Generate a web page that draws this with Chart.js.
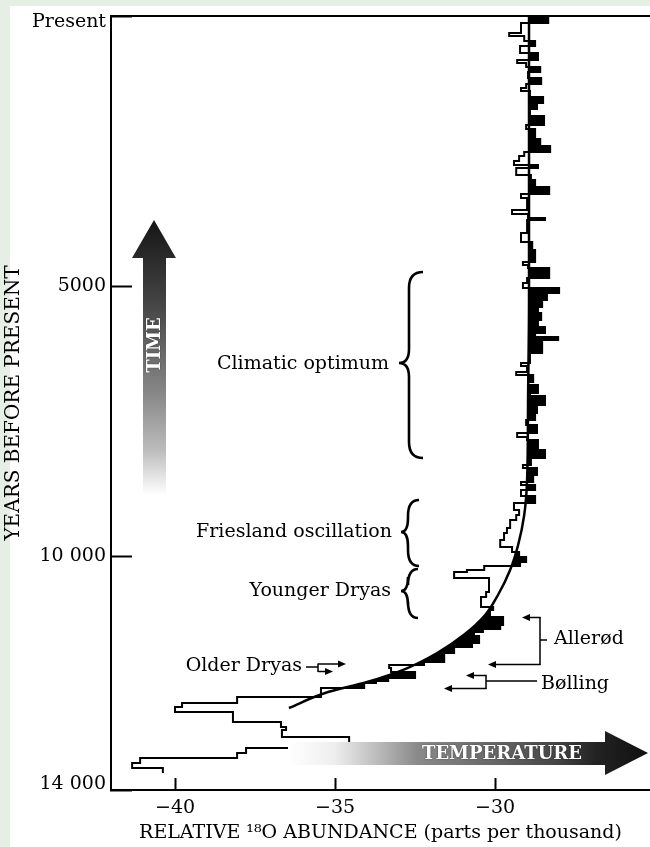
<!DOCTYPE html>
<html><head><meta charset="utf-8">
<script src="https://cdn.jsdelivr.net/npm/chart.js@4.4.0/dist/chart.umd.min.js"></script>
<style>
html,body{margin:0;padding:0;background:#e6efe4;width:650px;height:847px;overflow:hidden}
#panel{position:absolute;left:10px;top:6px;width:640px;height:841px;background:#fff}
#c{position:absolute;left:0;top:0}
</style></head><body>
<div id="panel"></div>
<canvas id="c" width="650" height="847"></canvas>
<script>
// ---- data ----
// start year of each step interval (years before present)
const stepYears = [0,130,315,370,463,556,685,815,870,945,1037,1148,1259,1333,1389,1500,1611,1722,1852,2019,2093,2278,2407,2518,2593,2685,2759,2815,2944,3037,3167,3296,3370,3593,3667,3741,3778,4019,4185,4333,4556,4611,4667,4852,4944,5037,5130,5259,5389,5500,5630,5759,5870,5944,6000,6241,6426,6481,6593,6648,6778,6833,6981,7037,7204,7352,7481,7574,7722,7796,7852,8037,8185,8315,8370,8500,8630,8685,8778,8889,9019,9148,9241,9333,9482,9574,9704,9833,9926,10019,10111,10185,10259,10296,10407,10667,10759,10944,11000,11130,11278,11352,11407,11481,11611,11685,11796,11963,12019,12074,12148,12259,12315,12352,12444,12611,12722,12796,12889,13074,13167,13222,13352,13556,13648,13741,13833,13926];
const stepEndYear = 14019;
// relative 18O abundance (per mil) in each interval
const stepValues = [-28.34,-29.19,-29.56,-29.09,-28.75,-29.22,-28.66,-29.31,-29.03,-28.59,-28.97,-28.56,-29.03,-29.19,-28.91,-28.50,-28.69,-28.91,-28.47,-29.03,-28.75,-28.59,-28.28,-29.09,-29.25,-29.41,-28.66,-29.34,-28.88,-28.75,-28.31,-29.19,-29.00,-29.47,-28.97,-28.44,-29.00,-29.19,-28.84,-28.75,-29.13,-28.97,-28.31,-29.00,-29.13,-28.00,-28.38,-28.53,-28.66,-28.56,-28.66,-28.44,-28.75,-28.03,-28.53,-28.91,-29.19,-29.00,-29.34,-28.81,-28.97,-28.66,-28.91,-28.44,-28.69,-28.75,-29.03,-28.69,-29.31,-29.00,-28.66,-28.44,-28.88,-29.13,-28.69,-28.81,-29.19,-28.75,-29.19,-28.75,-29.41,-29.25,-29.34,-29.53,-29.63,-29.72,-29.84,-29.47,-29.25,-29.03,-29.22,-30.34,-30.88,-31.28,-30.19,-30.28,-30.44,-30.06,-30.16,-29.75,-29.84,-30.38,-30.66,-30.50,-30.72,-31.28,-31.59,-32.22,-33.31,-33.25,-32.50,-33.34,-33.72,-34.09,-35.44,-38.06,-39.78,-40.00,-38.19,-36.69,-36.53,-36.66,-34.56,-37.78,-38.06,-41.09,-41.34,-40.38];
// smooth trend curve
const curveYears  = [0,5259,7111,8593,9241,9796,10259,10722,11093,11444,11796,12093,12333,12537,12815];
const curveValues = [-28.94,-28.94,-28.97,-29.00,-29.09,-29.28,-29.53,-29.91,-30.31,-30.94,-31.81,-32.81,-34.00,-35.31,-36.44];
// black shading (warmer than trend) is shown down to this year
const shadeEndYear = 12611;
// axes
const xTickValues = [-40,-35,-30];
const xTickLabels = ['\u221240','\u221235','\u221230'];
const yTickValues = [0,5000,10000,14333];
const yTickLabels = ['Present','5000','10 000','14 000'];

// ---- build point lists ----
const stepPts = stepValues.map((v,i)=>({x:v,y:stepYears[i]}));
stepPts.push({x:stepValues[stepValues.length-1], y:stepEndYear});
const shadePts = stepPts.filter(p=>p.y<=shadeEndYear);
const curvePts = curveValues.map((v,i)=>({x:v,y:curveYears[i]}));

const SERIF = '"DejaVu Serif", "Liberation Serif", serif';

function arrowH(c, x1, y, x2){
  const dir = Math.sign(x2-x1);
  c.beginPath(); c.moveTo(x1,y); c.lineTo(x2-dir*6,y); c.stroke();
  c.beginPath(); c.moveTo(x2,y); c.lineTo(x2-dir*8,y-3.5); c.lineTo(x2-dir*8,y+3.5); c.closePath(); c.fill();
}
function brace(c, tipX, stemX, endX, top, mid, bot){
  c.beginPath();
  c.moveTo(endX, top);
  c.quadraticCurveTo(stemX, top, stemX, top+16);
  c.lineTo(stemX, mid-14);
  c.quadraticCurveTo(stemX, mid, tipX, mid);
  c.quadraticCurveTo(stemX, mid, stemX, mid+14);
  c.lineTo(stemX, bot-16);
  c.quadraticCurveTo(stemX, bot, endX, bot);
  c.stroke();
}

const decor = {
  id:'decor',
  afterDraw(chart){
    const c = chart.ctx, a = chart.chartArea;
    c.save();
    c.strokeStyle='#000'; c.fillStyle='#000'; c.lineWidth=2;
    // top frame line
    c.beginPath(); c.moveTo(a.left-1, a.top); c.lineTo(650, a.top); c.stroke();

    // TIME arrow
    let g = c.createLinearGradient(0,220,0,495);
    g.addColorStop(0,'#151515'); g.addColorStop(0.3,'#444'); g.addColorStop(0.47,'#666');
    g.addColorStop(0.65,'#8c8c8c'); g.addColorStop(0.84,'#bdbdbd'); g.addColorStop(1,'#ffffff');
    c.fillStyle=g;
    c.beginPath(); c.moveTo(154,220); c.lineTo(176,258); c.lineTo(166,258); c.lineTo(166,495);
    c.lineTo(143,495); c.lineTo(143,258); c.lineTo(132,258); c.closePath(); c.fill();
    c.save(); c.translate(155,345); c.rotate(-Math.PI/2);
    c.font='bold 18px '+SERIF; c.textAlign='center'; c.textBaseline='middle';
    c.fillStyle='#fff'; c.shadowColor='rgba(0,0,0,0.6)'; c.shadowBlur=1.5;
    c.fillText('TIME',0,0); c.restore();

    // TEMPERATURE arrow
    g = c.createLinearGradient(288,0,647,0);
    g.addColorStop(0,'#ffffff'); g.addColorStop(0.13,'#eeeeee'); g.addColorStop(0.25,'#bbbbbb');
    g.addColorStop(0.36,'#8a8a8a'); g.addColorStop(0.58,'#666'); g.addColorStop(0.75,'#444');
    g.addColorStop(0.86,'#222'); g.addColorStop(1,'#111');
    c.fillStyle=g;
    c.beginPath(); c.moveTo(288,742); c.lineTo(605,742); c.lineTo(605,731); c.lineTo(648,753);
    c.lineTo(605,775); c.lineTo(605,765); c.lineTo(288,765); c.closePath(); c.fill();
    c.save(); c.font='bold 18px '+SERIF; c.textAlign='center'; c.textBaseline='middle';
    c.fillStyle='#fff'; c.shadowColor='rgba(0,0,0,0.6)'; c.shadowBlur=1.5;
    c.fillText('TEMPERATURE',502,754); c.restore();

    // braces
    c.strokeStyle='#000'; c.fillStyle='#000'; c.lineWidth=2.6;
    brace(c, 399, 409, 423, 272, 363, 458);
    brace(c, 401, 408, 419, 500, 532, 566);
    brace(c, 401, 408, 418, 569, 591, 618);

    // labels
    c.font='19px '+SERIF; c.textBaseline='middle'; c.textAlign='right'; c.fillStyle='#000';
    c.fillText('Climatic optimum',389,364);
    c.fillText('Friesland oscillation',392,532);
    c.fillText('Younger Dryas',391,591);
    c.fillText('Older Dryas',302,666);
    c.textAlign='left';
    c.fillText('Aller\u00f8d',554,639);
    c.fillText('B\u00f8lling',541,684);

    // connectors
    c.lineWidth=1.5;
    // Older Dryas
    c.beginPath(); c.moveTo(306,667); c.lineTo(318,667); c.moveTo(318,663.5); c.lineTo(318,672); c.stroke();
    arrowH(c,318,664,346);
    arrowH(c,318,671.5,333);
    // Allerød
    c.beginPath(); c.moveTo(540,617); c.lineTo(540,665); c.moveTo(540,640); c.lineTo(547,640); c.stroke();
    arrowH(c,540.5,617.5,522);
    arrowH(c,540.5,664.5,488);
    // Bølling
    c.beginPath(); c.moveTo(486,675); c.lineTo(486,689); c.moveTo(486,681); c.lineTo(537,681); c.stroke();
    arrowH(c,486.5,675.5,466);
    arrowH(c,486.5,688.5,444);
    c.restore();
  }
};

new Chart(document.getElementById('c'), {
  type:'line',
  data:{datasets:[
    {label:'warm', data:shadePts, stepped:'after', borderWidth:0, borderColor:'rgba(0,0,0,0)',
     backgroundColor:'#000', fill:{value:-60}, pointRadius:0, order:4},
    {label:'mask', data:curvePts, cubicInterpolationMode:'monotone', borderWidth:0, borderColor:'rgba(0,0,0,0)',
     backgroundColor:'#fff', fill:{value:-60}, pointRadius:0, order:3},
    {label:'18O', data:stepPts, stepped:'after', borderWidth:2, borderColor:'#000',
     fill:false, pointRadius:0, order:2, borderJoinStyle:'miter'},
    {label:'trend', data:curvePts, cubicInterpolationMode:'monotone', borderWidth:2.5, borderColor:'#000',
     fill:false, pointRadius:0, order:1}
  ]},
  options:{
    indexAxis:'y', responsive:false, animation:false, devicePixelRatio:1,
    layout:{padding:{left:0,right:0,top:16,bottom:0}},
    plugins:{legend:{display:false}, tooltip:{enabled:false}},
    scales:{
      x:{type:'linear', position:'bottom', min:-42, max:-25.16,
        afterBuildTicks:s=>{ s.ticks = xTickValues.map(v=>({value:v})); },
        ticks:{callback:v=>{const i=xTickValues.indexOf(v); return i<0?'':xTickLabels[i];},
          font:{family:SERIF,size:19}, color:'#000', padding:19, maxRotation:0, autoSkip:false},
        grid:{drawOnChartArea:false, drawTicks:true, tickLength:-12, tickWidth:2, tickColor:'#000', z:1},
        border:{display:true, color:'#000', width:2, z:1},
        title:{display:true, text:'RELATIVE \u00b9\u2078O ABUNDANCE (parts per thousand)',
          font:{family:SERIF,size:19}, color:'#000', padding:{top:0,bottom:3}},
        afterFit:s=>{ s.height = 57; s.paddingLeft = 0; s.paddingRight = 0; }
      },
      y:{type:'linear', position:'left', reverse:true, min:0, max:14333,
        afterBuildTicks:s=>{ s.ticks = yTickValues.map(v=>({value:v})); },
        ticks:{callback:v=>{const i=yTickValues.indexOf(v); if(i<0) return '';
            if(i===0) return ['',yTickLabels[i]]; if(i===3) return [yTickLabels[i],'']; return yTickLabels[i];},
          font:{family:SERIF,size:19,lineHeight:0.6}, color:'#000', padding:26, autoSkip:false},
        grid:{drawOnChartArea:false, drawTicks:true, tickLength:-21, tickWidth:2, tickColor:'#000', z:1},
        border:{display:true, color:'#000', width:2, z:1},
        title:{display:true, text:'YEARS BEFORE PRESENT', font:{family:SERIF,size:20}, color:'#000', padding:{top:2,bottom:0}},
        afterFit:s=>{ s.width = 111; s.paddingTop = 0; s.paddingBottom = 0; }
      }
    }
  },
  plugins:[decor]
});
</script>
</body></html>
